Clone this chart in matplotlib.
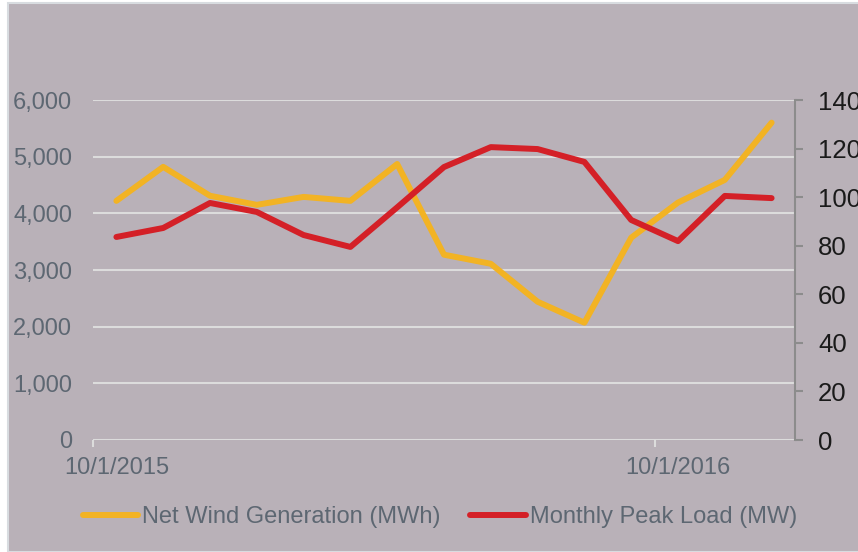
import matplotlib
matplotlib.use("Agg")
import matplotlib.pyplot as plt
from matplotlib.patches import Rectangle
from matplotlib.ticker import FuncFormatter, FixedLocator

plt.rcParams['font.family'] = ['Liberation Sans', 'DejaVu Sans']

months = ["10/1/2015", "11/1/2015", "12/1/2015", "1/1/2016", "2/1/2016", "3/1/2016",
          "4/1/2016", "5/1/2016", "6/1/2016", "7/1/2016", "8/1/2016", "9/1/2016",
          "10/1/2016", "11/1/2016", "12/1/2016"]
wind_mwh = [4220, 4820, 4310, 4150, 4290, 4220, 4870, 3270, 3110, 2440, 2070,
            3570, 4190, 4590, 5600]
peak_mw = [83.6, 87.3, 97.6, 93.9, 84.4, 79.5, 95.8, 112.4, 120.6, 119.8, 114.5,
           90.6, 81.9, 100.5, 99.6]
left_ticks = [0, 1000, 2000, 3000, 4000, 5000, 6000]
right_ticks = [0, 20, 40, 60, 80, 100, 120, 140]
x_labels = ["10/1/2015", "10/1/2016"]

BG = "#b9b1b8"
YEL = "#f2b324"
RED = "#d42027"
SLATE = "#5d6772"

fig = plt.figure(figsize=(8.58, 5.52), dpi=100)
fig.patch.set_facecolor("white")
bg = Rectangle((8/858, 0), 1, 1 - 3/552, transform=fig.transFigure,
               facecolor=BG, edgecolor="#d8dce0", lw=1.5, zorder=-10)
fig.patches.append(bg)

ax = fig.add_axes([93/858, 1 - 440/552, (795 - 93)/858, 340/552])
ax.set_facecolor("none")
x = list(range(len(months)))
ax.set_xlim(-0.5, len(months) - 0.5)
ax.set_ylim(0, 6000)
ax.set_yticks(left_ticks)
ax.yaxis.set_major_formatter(FuncFormatter(lambda v, p: f"{int(v):,}"))
ax.grid(axis='y', color="#dcdcdc", lw=1.5)
ax.set_axisbelow(True)
for s in ax.spines.values():
    s.set_visible(False)
ax.tick_params(axis='y', length=0, pad=15, labelsize=17, labelcolor=SLATE)

# x ticks: marks at boundaries, labels at category centres
idx_labels = [months.index(l) for l in x_labels]
ax.xaxis.set_major_locator(FixedLocator([i - 0.5 for i in idx_labels]))
ax.xaxis.set_minor_locator(FixedLocator(idx_labels))
ax.set_xticklabels([""] * len(idx_labels))
ax.set_xticklabels(x_labels, minor=True)
ax.tick_params(axis='x', which='major', length=5, width=1.5, color="#dcdcdc")
ax.tick_params(axis='x', which='minor', length=0, pad=12.5, labelsize=17, labelcolor=SLATE)

l1, = ax.plot(x, wind_mwh, color=YEL, lw=4.3, solid_capstyle='round',
              solid_joinstyle='round', label="Net Wind Generation (MWh)", zorder=3)

ax2 = ax.twinx()
ax2.set_ylim(0, 140)
ax2.set_yticks(right_ticks)
for k, s in ax2.spines.items():
    s.set_visible(k == 'right')
ax2.spines['right'].set_color("#8c8c8c")
ax2.spines['right'].set_linewidth(1.5)
ax2.tick_params(axis='y', length=5.8, width=1.5, color="#8c8c8c", pad=10.8,
                labelsize=18.5, labelcolor="#1a1a1a")
l2, = ax2.plot(x, peak_mw, color=RED, lw=4.3, solid_capstyle='round',
               solid_joinstyle='round', label="Monthly Peak Load (MW)", zorder=3)

leg = fig.legend(handles=[l1, l2], loc='center', bbox_to_anchor=(440/858, 1 - 517/552),
                 ncol=2, frameon=False, fontsize=17, handlelength=2.35,
                 handletextpad=0.17, columnspacing=1.25, labelcolor=SLATE,
                 borderaxespad=0)

fig.savefig("out.png", dpi=100, facecolor=fig.get_facecolor())
